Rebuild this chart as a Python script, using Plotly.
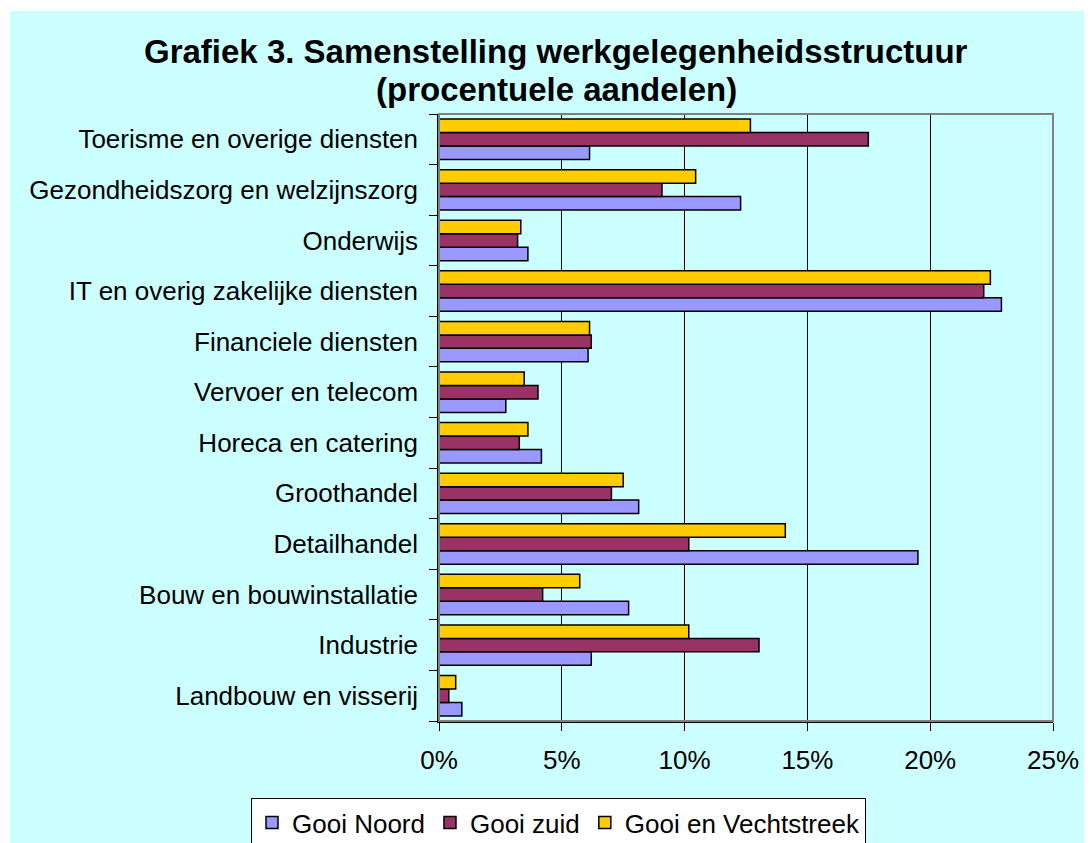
import plotly.graph_objects as go

categories = [
    "Landbouw en visserij",
    "Industrie",
    "Bouw en bouwinstallatie",
    "Detailhandel",
    "Groothandel",
    "Horeca en catering",
    "Vervoer en telecom",
    "Financiele diensten",
    "IT en overig zakelijke diensten",
    "Onderwijs",
    "Gezondheidszorg en welzijnszorg",
    "Toerisme en overige diensten",
]

gooi_noord = [0.93, 6.2, 7.72, 19.5, 8.13, 4.17, 2.72, 6.07, 22.9, 3.62, 12.28, 6.13]
gooi_zuid = [0.4, 13.03, 4.22, 10.17, 7.02, 3.27, 4.03, 6.2, 22.18, 3.2, 9.08, 17.48]
gooi_vecht = [0.68, 10.17, 5.73, 14.1, 7.5, 3.62, 3.47, 6.13, 22.45, 3.33, 10.45, 12.68]

series_names = ["Gooi Noord", "Gooi zuid", "Gooi en Vechtstreek"]
series_colors = ["#9999FF", "#993366", "#FFCC00"]
x_tickvals = [0, 5, 10, 15, 20, 25]
x_ticktext = ["0%", "5%", "10%", "15%", "20%", "25%"]
title_lines = ["Grafiek 3. Samenstelling werkgelegenheidsstructuur", "(procentuele aandelen)"]

FONT = "Liberation Sans, Arial, sans-serif"

fig = go.Figure()
for name, vals, col in zip(series_names, [gooi_noord, gooi_zuid, gooi_vecht], series_colors):
    fig.add_trace(go.Bar(
        y=categories, x=vals, name=name, orientation="h",
        marker=dict(color=col, line=dict(color="black", width=1.5)),
    ))

# page body has an 8px margin; figure is sized so it ends at the window edge
OFF = 8
W, H = 1092 - OFF, 843 - OFF
L, R, T, B = 439 - OFF, 39, 114 - OFF, 122
pw, ph = W - L - R, H - T - B

def px(x):  # screen x -> paper x
    return (x - OFF - L) / pw

def py(y):  # screen y -> paper y
    return (H - B - (y - OFF)) / ph

annotations = [
    dict(text="<b>%s</b>" % t, xref="paper", yref="paper",
         x=px(556), y=py(yc), xanchor="center", yanchor="middle",
         showarrow=False, font=dict(family=FONT, size=33, color="black"))
    for t, yc in zip(title_lines, [51, 89])
]

fig.update_layout(
    width=W, height=H,
    margin=dict(l=L, r=R, t=T, b=B, autoexpand=False),
    paper_bgcolor="white",
    plot_bgcolor="#FFFFCC",
    barmode="group",
    bargap=0.2,
    bargroupgap=0,
    font=dict(family=FONT, size=26, color="black"),
    annotations=annotations,
    legend=dict(
        orientation="h",
        x=px(251), xanchor="left",
        y=py(798), yanchor="top",
        bgcolor="white", bordercolor="black", borderwidth=1,
        font=dict(family=FONT, size=26, color="black"),
        itemwidth=30, traceorder="normal",
    ),
    showlegend=True,
    shapes=[
        dict(type="rect", xref="paper", yref="paper",
             x0=px(10), x1=px(1100), y0=py(860), y1=py(11),
             fillcolor="#CCFFFF", line=dict(width=0), layer="below"),
        dict(type="rect", xref="paper", yref="paper",
             x0=0, x1=1, y0=0, y1=1,
             line=dict(color="#808080", width=2), fillcolor="rgba(0,0,0,0)", layer="above"),
    ],
)

fig.update_xaxes(
    range=[0, 25],
    tickvals=x_tickvals, ticktext=x_ticktext,
    showgrid=True, gridcolor="#000000", gridwidth=1,
    zeroline=False,
    showline=True, linecolor="black", linewidth=1.5,
    ticks="outside", ticklen=8, tickcolor="black",
    ticklabelstandoff=7,
    tickfont=dict(family=FONT, size=26, color="black"),
)
fig.update_yaxes(
    categoryorder="array", categoryarray=categories,
    showline=True, linecolor="black", linewidth=1.5,
    ticks="outside", ticklen=8, tickcolor="black", tickson="boundaries",
    showgrid=False,
    ticklabelstandoff=14,
    tickfont=dict(family=FONT, size=26, color="black"),
)

fig.write_html("out.html")
